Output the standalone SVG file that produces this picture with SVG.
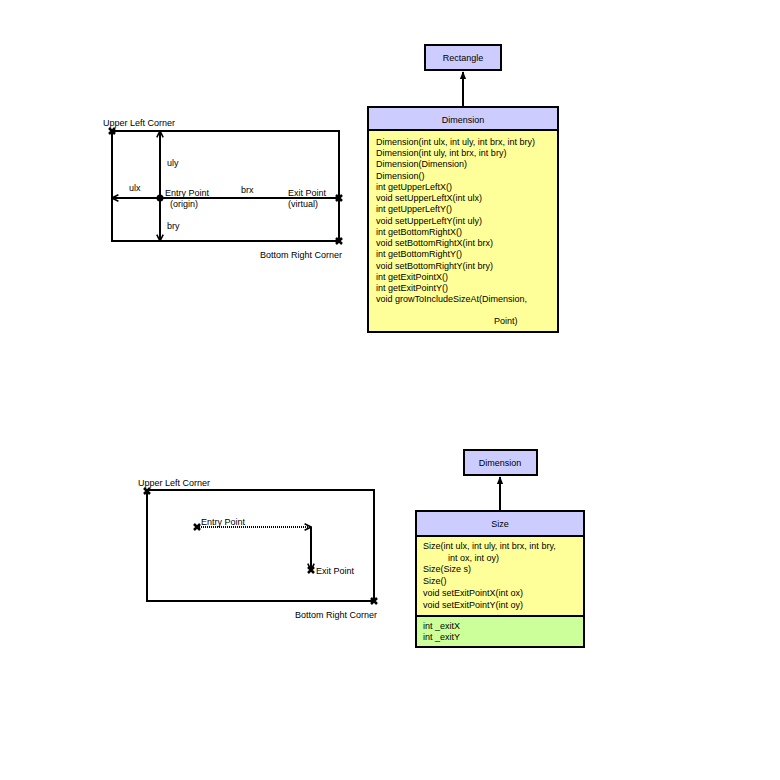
<svg xmlns="http://www.w3.org/2000/svg" width="780" height="780" viewBox="0 0 780 780">
<style>
text{font-family:"Liberation Sans",Arial,sans-serif;font-size:9px;fill:#000}
.ln{stroke:#000;stroke-width:2;fill:none}
.box{stroke:#000;stroke-width:2}
.hd{fill:#ccccff}.bd{fill:#ffff99}.at{fill:#ccff99}
.c{text-anchor:middle}
</style>
<defs>
<marker id="a" viewBox="0 0 10 10" refX="9" refY="5" markerWidth="4" markerHeight="4" orient="auto-start-reverse"><path d="M1,1 L9,5 L1,9" fill="none" stroke="#000" stroke-width="2"/></marker>
<marker id="t" viewBox="0 0 10 10" refX="9" refY="5" markerWidth="4" markerHeight="4" orient="auto"><path d="M0,1 L10,5 L0,9 z" fill="#000"/></marker>
<g id="x"><path d="M-3,-3 L3,3 M-3,3 L3,-3" stroke="#000" stroke-width="2.5"/></g>
</defs>
<rect width="780" height="780" fill="#fff"/>
<g id="top-geometry">
<rect x="112" y="131" width="227" height="110" class="ln"/>
<line x1="160" y1="198" x2="112" y2="198" class="ln" marker-end="url(#a)"/>
<line x1="160" y1="198" x2="339" y2="198" class="ln"/>
<line x1="160" y1="198" x2="160" y2="131" class="ln" marker-end="url(#a)"/>
<line x1="160" y1="198" x2="160" y2="241" class="ln" marker-end="url(#a)"/>
<circle cx="160" cy="198" r="3.5"/>
<use href="#x" x="112" y="131"/><use href="#x" x="339" y="198"/><use href="#x" x="339" y="241"/>
<text x="103" y="126">Upper Left Corner</text>
<text x="167" y="166">uly</text>
<text x="129" y="191">ulx</text>
<text x="165" y="196">Entry Point</text>
<text x="170" y="207">(origin)</text>
<text x="241" y="193">brx</text>
<text x="288" y="196">Exit Point</text>
<text x="288" y="207">(virtual)</text>
<text x="167" y="229">bry</text>
<text x="260" y="258">Bottom Right Corner</text>
</g>
<g id="connectors">
<line x1="463" y1="107" x2="463" y2="72" class="ln" marker-end="url(#t)"/>
<line x1="500" y1="511" x2="500" y2="477" class="ln" marker-end="url(#t)"/>
</g>
<g id="rectangle"><rect x="425" y="45" width="76" height="25" class="box hd"/><text x="463" y="61" class="c">Rectangle</text></g>
<g id="dimension">
<rect x="368" y="107" width="190" height="23" class="box hd"/><text x="463" y="123" class="c">Dimension</text>
<rect x="368" y="130" width="190" height="202" class="box bd"/>
<text x="376" y="145">Dimension(int ulx, int uly, int brx, int bry)</text>
<text x="376" y="156">Dimension(int uly, int brx, int bry)</text>
<text x="376" y="167">Dimension(Dimension)</text>
<text x="376" y="179">Dimension()</text>
<text x="376" y="190">int getUpperLeftX()</text>
<text x="376" y="201">void setUpperLeftX(int ulx)</text>
<text x="376" y="212">int getUpperLeftY()</text>
<text x="376" y="224">void setUpperLeftY(int uly)</text>
<text x="376" y="235">int getBottomRightX()</text>
<text x="376" y="246">void setBottomRightX(int brx)</text>
<text x="376" y="257">int getBottomRightY()</text>
<text x="376" y="269">void setBottomRightY(int bry)</text>
<text x="376" y="280">int getExitPointX()</text>
<text x="376" y="291">int getExitPointY()</text>
<text x="376" y="302">void growToIncludeSizeAt(Dimension,</text>
<text x="494" y="324">Point)</text>
</g>
<g id="bottom-geometry">
<rect x="147" y="490" width="227" height="111" class="ln"/>
<line x1="197" y1="527" x2="311" y2="527" stroke="#000" stroke-width="2" stroke-dasharray="1,1" marker-end="url(#a)"/>
<line x1="311" y1="527" x2="311" y2="570" class="ln" marker-end="url(#a)"/>
<use href="#x" x="147" y="491"/><use href="#x" x="197" y="527"/><use href="#x" x="311" y="570"/><use href="#x" x="374" y="601"/>
<text x="138" y="486">Upper Left Corner</text>
<text x="201" y="525">Entry Point</text>
<text x="316" y="574">Exit Point</text>
<text x="295" y="618">Bottom Right Corner</text>
</g>
<g id="dimension2"><rect x="464" y="450" width="73" height="25" class="box hd"/><text x="500" y="466" class="c">Dimension</text></g>
<g id="size">
<rect x="416" y="511" width="168" height="25" class="box hd"/><text x="500" y="527" class="c">Size</text>
<rect x="416" y="536" width="168" height="80" class="box bd"/>
<text x="423" y="549">Size(int ulx, int uly, int brx, int bry,</text>
<text x="448" y="561">int ox, int oy)</text>
<text x="423" y="572">Size(Size s)</text>
<text x="423" y="584">Size()</text>
<text x="423" y="596">void setExitPointX(int ox)</text>
<text x="423" y="608">void setExitPointY(int oy)</text>
<rect x="416" y="616" width="168" height="31" class="box at"/>
<text x="423" y="629">int _exitX</text>
<text x="423" y="640">int _exitY</text>
</g>
</svg>
